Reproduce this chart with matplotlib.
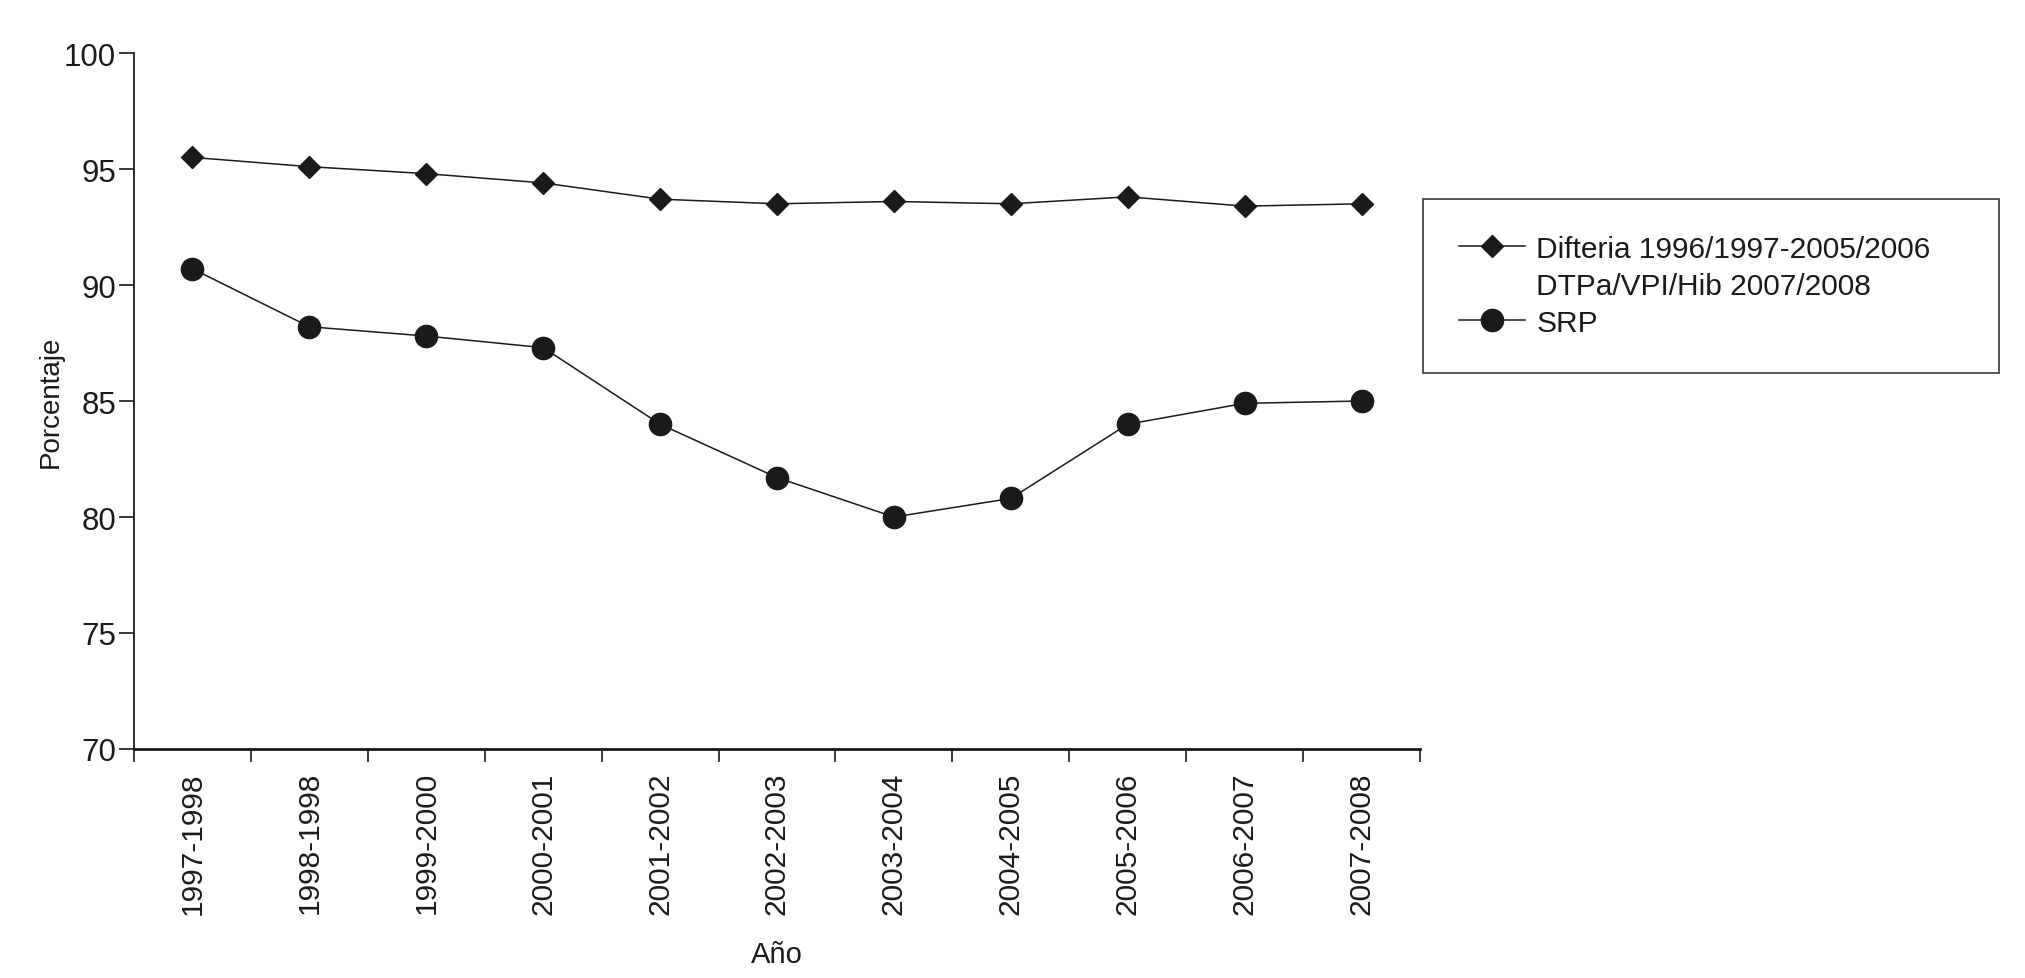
import matplotlib
matplotlib.use('Agg')
import matplotlib.pyplot as plt
from matplotlib.lines import Line2D

plt.rcParams['font.family'] = ['Liberation Sans', 'DejaVu Sans']

# data
temporadas = ['1997-1998', '1998-1998', '1999-2000', '2000-2001', '2001-2002', '2002-2003',
              '2003-2004', '2004-2005', '2005-2006', '2006-2007', '2007-2008']
difteria = [95.5, 95.1, 94.8, 94.4, 93.7, 93.5, 93.6, 93.5, 93.8, 93.4, 93.5]
srp = [90.7, 88.2, 87.8, 87.3, 84.0, 81.7, 80.0, 80.8, 84.0, 84.9, 85.0]
yticks = [70, 75, 80, 85, 90, 95, 100]

lbl_dif = 'Difteria 1996/1997-2005/2006'
lbl_dif2 = 'DTPa/VPI/Hib 2007/2008'
lbl_srp = 'SRP'

c = '#1a1a1a'
W, H = 2025, 979
fig = plt.figure(figsize=(W / 100, H / 100), dpi=100)
ax = fig.add_axes([134 / W, (H - 750) / H, (1420 - 134) / W, (750 - 54) / H])

x = list(range(len(temporadas)))
ax.plot(x, difteria, color=c, lw=1.1, marker='D', ms=11, mfc=c, mec=c)
ax.plot(x, srp, color=c, lw=1.1, marker='o', ms=16, mfc=c, mec=c)

ax.set_xlim(-0.5, len(temporadas) - 0.5)
ax.set_ylim(70, 100)
ax.set_yticks(yticks)
ax.tick_params(axis='y', labelsize=22.5, length=11, width=1.2, pad=2, colors=c)

# tick marks at category edges, labels at centres
ax.set_xticks([i - 0.5 for i in range(len(temporadas) + 1)])
ax.set_xticklabels([])
ax.set_xticks(x, minor=True)
ax.set_xticklabels(temporadas, minor=True, rotation=90, fontsize=21.5, color=c)
ax.tick_params(axis='x', which='major', length=9.5, width=1.2, colors=c)
ax.tick_params(axis='x', which='minor', length=0, pad=16)

for s in ['top', 'right']:
    ax.spines[s].set_visible(False)
ax.spines['left'].set_linewidth(1.3)
ax.spines['bottom'].set_linewidth(2)
ax.spines['left'].set_color(c)
ax.spines['bottom'].set_color(c)

ax.set_ylabel('Porcentaje', fontsize=20, color=c)
ax.yaxis.set_label_coords(-0.055, 0.5)
ax.set_xlabel('Año', fontsize=21, color=c)
ax.xaxis.set_label_coords(0.5, -0.274)

handles = [
    Line2D([], [], color=c, lw=1.1, marker='D', ms=11),
    Line2D([], [], color='none'),
    Line2D([], [], color=c, lw=1.1, marker='o', ms=16),
]
leg = fig.legend(handles, [lbl_dif, lbl_dif2, lbl_srp], loc='upper left',
                 bbox_to_anchor=(1423 / W, (H - 374) / H, 576 / W, 174 / H),
                 mode='expand', borderaxespad=0, fontsize=21.5, frameon=True,
                 fancybox=False, edgecolor=c, handlelength=2.2, handletextpad=0.4,
                 labelspacing=0.3, borderpad=1.2)
leg.get_frame().set_linewidth(1.3)
for t in leg.get_texts():
    t.set_color(c)

fig.savefig('out.png', dpi=100)
